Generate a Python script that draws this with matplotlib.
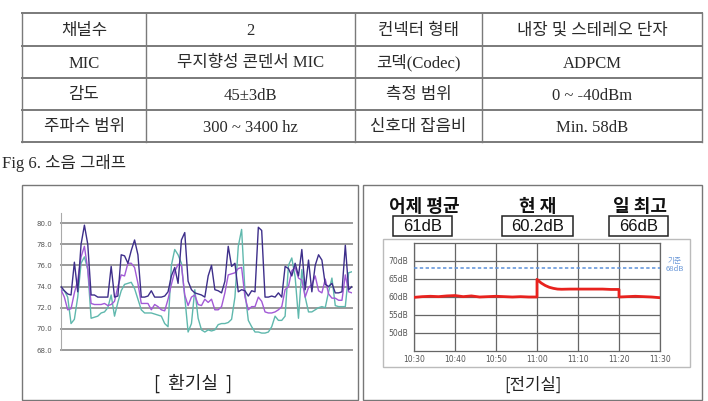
import matplotlib
matplotlib.use("Agg")
import matplotlib.pyplot as plt
from matplotlib.patches import Rectangle

# ---------------- data ----------------
table_rows = [
    ["채널수", "2", "컨넥터 형태", "내장 및 스테레오 단자"],
    ["MIC", "무지향성 콘덴서 MIC", "코덱(Codec)", "ADPCM"],
    ["감도", "45±3dB", "측정 범위", "0 ~ -40dBm"],
    ["주파수 범위", "300 ~ 3400 hz", "신호대 잡음비", "Min. 58dB"],
]
caption = "Fig 6. 소음 그래프"

# left chart (환기실)
left_title = "[  환기실  ]"
left_yticks = [68.0, 70.0, 72.0, 74.0, 76.0, 78.0, 80.0]
navy = [74.0, 73.6, 73.3, 73.2, 76.3, 73.5, 78.0, 79.8, 78.0, 73.2,
        73.2, 73.0, 73.0, 73.0, 73.0, 75.9, 73.0, 73.1, 77.0, 76.9,
        76.2, 77.4, 78.4, 77.0, 73.0, 73.0, 73.1, 73.6, 73.0, 73.0,
        73.0, 73.1, 73.5, 75.0, 75.8, 74.3, 78.4, 79.1, 74.5, 73.7,
        73.4, 73.3, 73.2, 73.0, 75.0, 76.0, 73.7, 73.6, 73.4, 74.5,
        77.8, 75.9, 76.2, 73.5, 73.7, 73.6, 73.1, 73.6, 73.5, 79.6,
        79.3, 73.0, 73.0, 73.1, 73.0, 73.4, 73.0, 75.9, 75.7, 75.0,
        76.2, 75.0, 77.5, 73.7, 76.5, 73.5, 76.0, 77.0, 76.5, 74.2,
        74.0, 74.3, 73.4, 73.4, 73.5, 77.9, 73.7, 74.0]
purple = [73.7, 73.0, 71.8, 71.9, 73.4, 74.6, 76.8, 77.8, 75.6, 72.4,
          72.3, 72.3, 72.3, 72.4, 72.2, 72.3, 72.6, 74.0, 75.1, 75.0,
          76.2, 76.2, 75.8, 74.3, 72.4, 72.4, 72.4, 71.8, 72.3, 72.1,
          71.8, 71.7, 72.8, 74.2, 75.4, 76.1, 76.0, 73.2, 72.2, 73.0,
          73.2, 72.3, 72.2, 72.8, 72.5, 72.8, 71.8, 71.8, 72.1, 73.4,
          75.1, 75.2, 75.3, 75.7, 75.8, 73.0, 71.8, 72.1, 72.1, 73.0,
          72.6, 71.6, 71.5, 71.5, 71.6, 71.8, 72.1, 73.7, 74.0, 75.5,
          75.8, 74.8, 74.6, 73.0, 73.9, 74.2, 75.0, 73.6, 73.4, 74.7,
          73.3, 72.9, 72.9, 72.7, 72.7, 75.1, 73.5, 73.4]
teal = [73.7, 73.6, 73.0, 70.5, 70.9, 73.0, 76.2, 76.8, 75.6, 71.0,
        71.1, 71.2, 71.5, 71.6, 72.0, 73.2, 71.2, 72.5, 73.6, 74.2,
        74.3, 74.4, 73.8, 72.8, 71.8, 71.5, 71.5, 71.5, 71.4, 71.3,
        71.2, 70.5, 70.2, 76.0, 77.5, 77.0, 76.2, 73.0, 69.7, 70.5,
        73.7, 71.0, 69.9, 69.7, 69.9, 69.8, 69.9, 70.4, 70.5, 70.5,
        70.6, 70.9, 73.0, 77.8, 79.4, 73.5, 70.8, 70.2, 69.7, 69.7,
        69.6, 69.6, 69.7, 70.2, 71.2, 70.8, 70.8, 71.2, 76.0, 76.7,
        74.9, 71.0, 75.6, 73.0, 71.6, 71.6, 71.8, 72.0, 72.1, 72.0,
        73.5, 74.8, 72.2, 72.1, 72.1, 72.1, 75.3, 75.4]

# right chart (전기실)
right_title = "[전기실]"
stat_labels = ["어제 평균", "현 재", "일 최고"]
stat_values = ["61dB", "60.2dB", "66dB"]
right_xticklabels = ["10:30", "10:40", "10:50", "11:00", "11:10", "11:20", "11:30"]
right_yticks = [50, 55, 60, 65, 70]
threshold = 68
threshold_label = "기준\n68dB"
red_t = [0, 2, 4, 6, 8, 10, 12, 14, 16, 18, 20, 22, 24, 26, 28, 30,
         30, 31, 32, 33, 34, 35, 36, 38, 40, 42, 44, 46, 48, 50,
         50, 52, 54, 56, 58, 60]
red_v = [59.9, 60.1, 60.2, 60.1, 60.3, 60.4, 60.1, 60.3, 60.0, 60.1, 60.2, 60.1, 60.0, 60.1, 60.0, 60.0,
         64.9, 63.9, 63.2, 62.7, 62.4, 62.2, 62.15, 62.2, 62.2, 62.2, 62.2, 62.2, 62.1, 62.1,
         60.0, 60.1, 60.2, 60.1, 60.0, 59.8]

# ---------------- figure ----------------
W, H = 708, 401
fig = plt.figure(figsize=(W / 100, H / 100), dpi=100)
fig.patch.set_facecolor("white")
ax0 = fig.add_axes([0, 0, 1, 1])
ax0.set_xlim(0, W)
ax0.set_ylim(H, 0)
ax0.axis("off")

serif_ko = ["Liberation Serif", "Noto Sans CJK KR"]
sans_ko = ["Noto Sans CJK KR", "DejaVu Sans"]

def fr(x0, y0, x1, y1):
    return [x0 / W, 1 - y1 / H, (x1 - x0) / W, (y1 - y0) / H]

# table
col_x = [22, 146, 355, 482, 702]
row_y = [13, 46, 78, 110, 142]
tc = "#7a7a7a"
for y in row_y:
    ax0.plot([col_x[0], col_x[-1]], [y, y], color=tc, lw=1.4)
for x in col_x:
    ax0.plot([x, x], [row_y[0], row_y[-1]], color=tc, lw=1.0)
for r, row in enumerate(table_rows):
    for c, txt in enumerate(row):
        ax0.text((col_x[c] + col_x[c + 1]) / 2, (row_y[r] + row_y[r + 1]) / 2 + 5.5, txt,
                 ha="center", va="baseline", fontsize=12, family=serif_ko,
                 fontweight="light", color="#2a2a2a")

ax0.text(2, 168, caption, ha="left", va="baseline", fontsize=12, family=serif_ko,
         fontweight="light", color="#2a2a2a")

# panel boxes
ax0.add_patch(Rectangle((22, 185), 336, 215, fill=False, ec="#777777", lw=1.0))
ax0.add_patch(Rectangle((363, 185), 339, 215, fill=False, ec="#777777", lw=1.0))

# ---------- left chart ----------
axL = fig.add_axes(fr(61, 213, 352, 350))
x_idx = list(range(len(navy)))
axL.set_xlim(0, len(navy) - 1)
axL.set_ylim(68, 80.95)
for v in left_yticks:
    axL.axhline(v, color="#9a9a9a", lw=1.4, zorder=1, clip_on=False)
axL.plot(x_idx, teal, color="#5fb8ad", lw=1.0, zorder=2)
axL.plot(x_idx, purple, color="#a25ad6", lw=1.0, zorder=3)
axL.plot(x_idx, navy, color="#3d2e8a", lw=1.0, zorder=4)
for s in ["top", "right", "bottom"]:
    axL.spines[s].set_visible(False)
axL.spines["left"].set_color("#aaaaaa")
axL.spines["left"].set_linewidth(0.8)
axL.set_yticks(left_yticks)
axL.set_yticklabels([f"{v:.1f}" for v in left_yticks])
axL.tick_params(axis="y", length=0, pad=6.5, labelsize=5, labelcolor="#555555")
axL.set_xticks([])
axL.patch.set_alpha(0)
ax0.text(193, 383, left_title, ha="center", va="center", fontsize=13, family=sans_ko, color="#222222")

# ---------- right chart ----------
ax0.add_patch(Rectangle((383, 239), 307, 128, fill=False, ec="#bbbbbb", lw=1.0))
axR = fig.add_axes(fr(414, 243, 660, 351))
axR.set_xlim(0, 60)
axR.set_ylim(45, 75)
axR.set_xticks([0, 10, 20, 30, 40, 50, 60])
axR.set_xticklabels(right_xticklabels)
axR.set_yticks(right_yticks)
axR.set_yticklabels([f"{v}dB" for v in right_yticks])
axR.grid(True, color="#666666", lw=0.9)
axR.set_axisbelow(True)
for s in axR.spines.values():
    s.set_color("#666666")
    s.set_linewidth(0.9)
axR.tick_params(axis="both", length=0, labelsize=5.5, labelcolor="#555555")
axR.tick_params(axis="y", pad=4)
axR.tick_params(axis="x", pad=3)
axR.axhline(threshold, color="#5b8fd8", lw=1.1, ls=(0, (2.2, 1.6)), zorder=3)
axR.plot(red_t, red_v, color="#e8221e", lw=2.0, zorder=4)
ax0.text(675, 265, threshold_label, ha="center", va="center", fontsize=5.5,
         family=sans_ko, color="#6a98d8", linespacing=1.0)

stat_x = [424, 538, 640]
box_x = [(393, 452), (502, 573), (609, 668)]
for i in range(3):
    ax0.text(stat_x[i], 207, stat_labels[i], ha="center", va="center", fontsize=13,
             family=sans_ko, fontweight="bold", color="#111111")
    x0, x1 = box_x[i]
    ax0.add_patch(Rectangle((x0, 216), x1 - x0, 20, fill=False, ec="#222222", lw=1.1))
    ax0.text((x0 + x1) / 2, 226.5, stat_values[i], ha="center", va="center", fontsize=12,
             family=["Liberation Sans", "DejaVu Sans"], color="#111111")

ax0.text(533, 385, right_title, ha="center", va="center", fontsize=12, family=sans_ko, color="#222222")

fig.savefig("out.png", dpi=100)
